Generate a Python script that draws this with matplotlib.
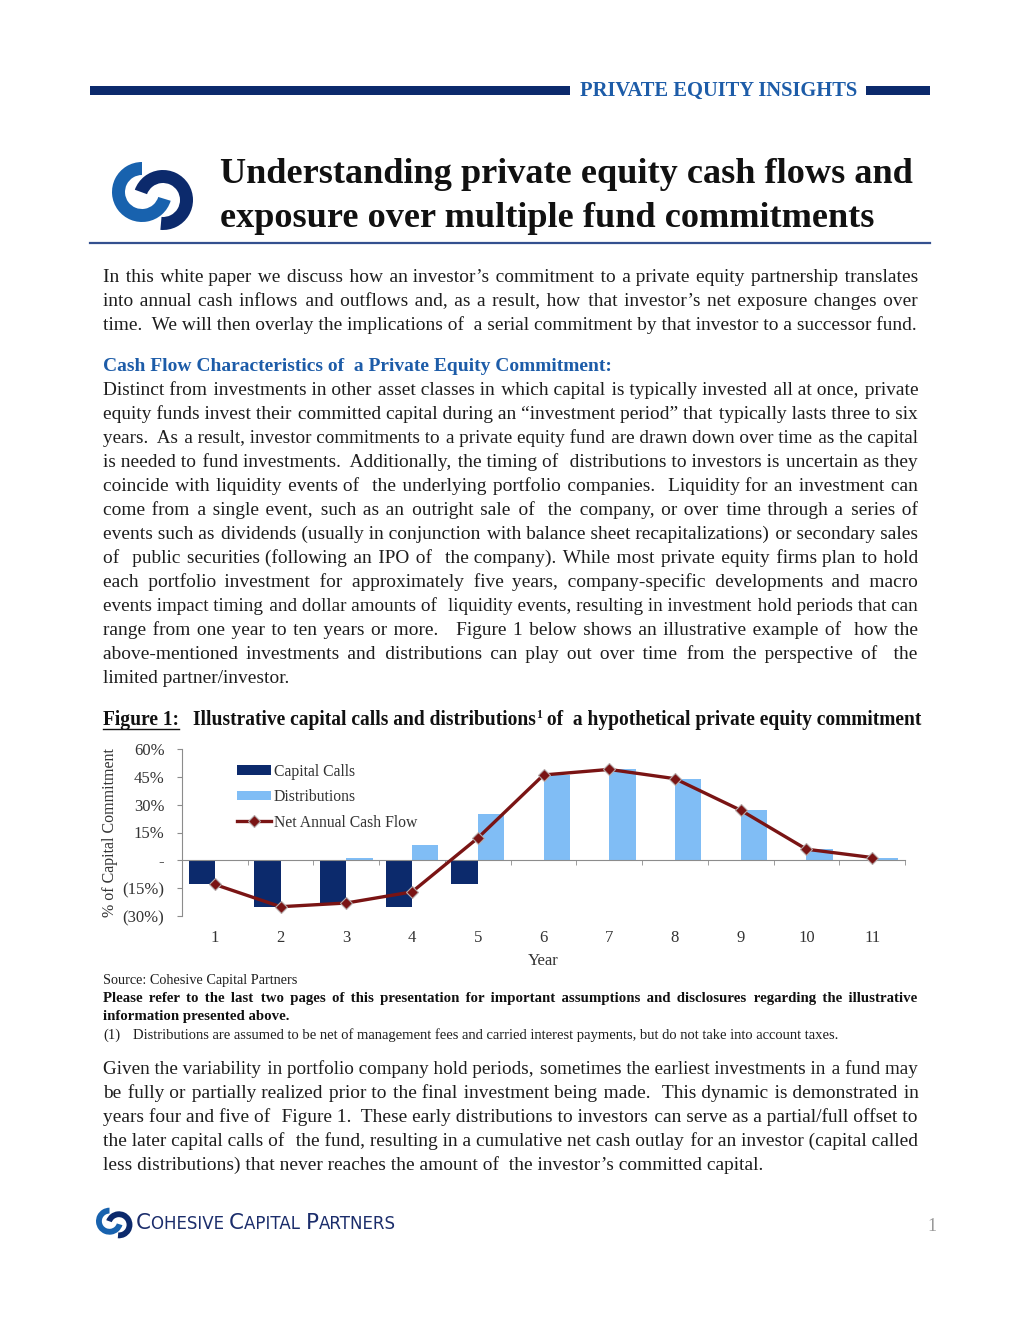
import numpy as np
import matplotlib
matplotlib.use("Agg")
import matplotlib.pyplot as plt
from matplotlib.font_manager import FontProperties
from matplotlib.patches import Wedge, Rectangle
from matplotlib.lines import Line2D

W, H = 1020, 1320
SERIF = ["Liberation Serif", "DejaVu Serif"]
plt.rcParams["font.family"] = SERIF

NAVY = "#0c2a6c"
LOGO_BLUE = "#1862ae"
LIGHT = "#80bdf5"
RED = "#7a1414"
BLUE_TXT = "#1d5ca8"
BODY = "#1e1e1e"
GRAY = "#8c8c8c"
HAIR = "\u200a"

# chart data (% of capital commitment)
years = [1, 2, 3, 4, 5, 6, 7, 8, 9, 10, 11]
capital_calls = [-13, -25, -24, -25, -13, 0, 0, 0, 0, 0, 0]
distributions = [0, 0, 1, 8, 25, 46, 49, 44, 27, 6, 1.5]
net_cash_flow = [-13, -25, -23, -17, 12, 46, 49, 44, 27, 6, 1.5]
y_ticks = [60, 45, 30, 15, 0, -15, -30]
series_labels = ["Capital Calls", "Distributions", "Net Annual Cash Flow"]

# page text
header = "PRIVATE EQUITY INSIGHTS"
title_lines = ["Understanding private equity cash flows and",
               "exposure over multiple fund commitments"]
para1 = ["In this white paper we discuss how an investor\u2019s commitment to a private equity partnership translates",
         "into annual cash inflows and outflows and, as a result, how that investor\u2019s net exposure changes over",
         "time.  We will then overlay the implications of  a serial commitment by that investor to a successor fund."]
heading = "Cash Flow Characteristics of  a Private Equity Commitment:"
para2 = ["Distinct from investments in other asset classes in which capital is typically invested all at once, private",
         "equity funds invest their committed capital during an \u201cinvestment period\u201d that typically lasts three to six",
         "years.  As a result, investor commitments to a private equity fund are drawn down over time as the capital",
         "is needed to fund investments.  Additionally, the timing of  distributions to investors is uncertain as they",
         "coincide with liquidity events of  the underlying portfolio companies.  Liquidity for an investment can",
         "come from a single event, such as an outright sale of  the company, or over time through a series of",
         "events such as dividends (usually in conjunction with balance sheet recapitalizations) or secondary sales",
         "of  public securities (following an IPO of  the company). While most private equity firms plan to hold",
         "each portfolio investment for approximately five years, company-specific developments and macro",
         "events impact timing and dollar amounts of  liquidity events, resulting in investment hold periods that can",
         "range from one year to ten years or more.   Figure 1 below shows an illustrative example of  how the",
         "above-mentioned investments and distributions can play out over time from the perspective of  the",
         "limited partner/investor."]
caption_a = "Illustrative capital calls and distributions"
caption_b = " of  a hypothetical private equity commitment"
source = "Source: Cohesive Capital Partners"
disclaimer = ["Please refer to the last two pages of this presentation for important assumptions and disclosures regarding the illustrative",
              "information presented above."]
footnote = "Distributions are assumed to be net of management fees and carried interest payments, but do not take into account taxes."
para3 = ["Given the variability in portfolio company hold periods, sometimes the earliest investments in a fund may",
         "be fully or partially realized prior to the final investment being made.  This dynamic is demonstrated in",
         "years four and five of  Figure 1.  These early distributions to investors can serve as a partial/full offset to",
         "the later capital calls of  the fund, resulting in a cumulative net cash outlay for an investor (capital called",
         "less distributions) that never reaches the amount of  the investor\u2019s committed capital."]

fig = plt.figure(figsize=(W / 100, H / 100), dpi=100)
page = fig.add_axes([0, 0, 1, 1])
page.set_xlim(0, W)
page.set_ylim(H, 0)
page.axis("off")
renderer = fig.canvas.get_renderer()


def width(s, size, weight="normal", family=SERIF):
    if not s:
        return 0.0
    fp = FontProperties(family=family, size=size, weight=weight)
    w, _, _ = renderer.get_text_width_height_descent(s, fp, ismath=False)
    return w


def advance(s, size, weight="normal", family=SERIF):
    return width("H" + s + "H", size, weight, family) - width("HH", size, weight, family)


def fit(s, target, weight="normal", family=SERIF):
    return 20 * target / width(s, 20, weight, family)


def justify(line, x0, x1, size, weight):
    # widen the gaps with hair spaces so the line spans x0..x1
    tokens = line.split(" ")
    n = len(tokens) - 1
    extra = (x1 - x0) - width(line, size, weight)
    hw = advance(HAIR, size, weight)
    if n == 0 or extra <= 0 or hw <= 0:
        return line
    out, done = tokens[0], 0.0
    for i in range(n):
        k = int(round((extra * (i + 1) / n - done) / hw))
        out += " " + HAIR * max(k, 0) + tokens[i + 1]
        done += max(k, 0) * hw
    return out


def put_para(lines, x0, x1, y0, step, size, weight="normal", color=BODY):
    for i, line in enumerate(lines):
        sz = size
        natural = width(line, size, weight)
        if natural > x1 - x0:
            sz = size * (x1 - x0) / natural * 0.998
        if i < len(lines) - 1:
            line = justify(line, x0, x1, sz, weight)
        page.text(x0, y0 + i * step, line, fontsize=sz, fontweight=weight,
                  color=color, ha="left", va="baseline")


def logo(cx, cy, s):
    page.add_patch(Wedge((cx - 10 * s, cy - 4 * s), 30 * s, 17, 270,
                         width=13 * s, color=LOGO_BLUE, lw=0))
    page.add_patch(Wedge((cx + 11 * s, cy + 4 * s), 30 * s, -160, 95,
                         width=13 * s, color=NAVY, lw=0))


# header band
page.add_patch(Rectangle((90, 86), 480, 9, color=NAVY, lw=0))
page.add_patch(Rectangle((866, 86), 64, 9, color=NAVY, lw=0))
hs = fit(header, 276, "bold")
page.text(580, 95.5, header, fontsize=hs, fontweight="bold", color=BLUE_TXT,
          ha="left", va="baseline")

# title block
logo(152, 196, 1.0)
ts = fit(title_lines[0], 691, "bold")
for i, t in enumerate(title_lines):
    page.text(220, 183 + 44 * i, t, fontsize=ts, fontweight="bold", color="#111111",
              ha="left", va="baseline")
page.plot([90, 930], [243, 243], color="#34508f", lw=1.6)

# body text
bs = fit(para1[2].replace("  ", " "), 800)
put_para(para1, 103, 918, 282, 24, bs)
hds = fit(heading, 508, "bold")
page.text(103, 371, heading, fontsize=hds, fontweight="bold", color=BLUE_TXT,
          ha="left", va="baseline")
put_para(para2, 103, 918, 395, 24, bs)

# figure caption
cs = fit(caption_a + caption_b, 724, "bold")
page.text(103, 725, "Figure 1:", fontsize=cs, fontweight="bold", color="#111111",
          ha="left", va="baseline")
page.plot([103, 103 + width("Figure 1:", cs, "bold")], [729, 729], color="#111111", lw=1.0)
x = 193
page.text(x, 725, caption_a, fontsize=cs, fontweight="bold", color="#111111",
          ha="left", va="baseline")
x += width(caption_a, cs, "bold")
page.text(x + 0.5, 718, "1", fontsize=cs * 0.6, fontweight="bold", color="#111111",
          ha="left", va="baseline")
x += width("1", cs * 0.6, "bold") + 0.5
page.text(x, 725, caption_b, fontsize=cs, fontweight="bold", color="#111111",
          ha="left", va="baseline")

# notes under chart
ss = fit(source, 195)
page.text(103, 984, source, fontsize=ss, color=BODY, ha="left", va="baseline")
ds = fit(disclaimer[1], 186, "bold")
put_para(disclaimer, 103, 917, 1002, 18, ds, "bold", "#111111")
fs = fit(footnote, 709)
page.text(103, 1039, "(1)", fontsize=fs, color=BODY, ha="left", va="baseline")
page.text(133, 1039, footnote, fontsize=fs, color=BODY, ha="left", va="baseline")

put_para(para3, 103, 918, 1074, 24, bs)

# footer
logo(114, 1223, 0.45)
runs = [("C", 1.0), ("OHESIVE ", 0.78), ("C", 1.0), ("APITAL ", 0.78),
        ("P", 1.0), ("ARTNERS", 0.78)]
FOOT = "DejaVu Sans"
base = sum(advance(r, 10 * k, family=FOOT) for r, k in runs)
fsz = 10 * 262 / base
x = 136
for r, k in runs:
    page.text(x, 1229, r, fontsize=fsz * k, family=FOOT, color="#1b2d6b",
              ha="left", va="baseline")
    x += advance(r, fsz * k, family=FOOT)
page.text(927, 1231, "1", fontsize=13, color="#999999", ha="left", va="baseline")

# chart
ax = fig.add_axes([182 / W, 1 - 916 / H, 723 / W, 167 / H])
ax.set_facecolor("none")
xs = np.array(years, dtype=float)
ax.bar(xs - 0.2, capital_calls, 0.4, color=NAVY, lw=0, zorder=2)
ax.bar(xs + 0.2, distributions, 0.4, color=LIGHT, lw=0, zorder=2)
ax.plot(xs, net_cash_flow, color=RED, lw=2.4, marker="D", ms=6.5, mfc=RED,
        mec="#b5aaaa", mew=0.8, zorder=4)
ax.set_xlim(0.5, 11.5)
ax.set_ylim(-30, 60)

for s in ["top", "right"]:
    ax.spines[s].set_visible(False)
ax.spines["left"].set_color(GRAY)
ax.spines["bottom"].set_color(GRAY)
ax.spines["bottom"].set_position(("data", 0))
ax.spines["bottom"].set_zorder(3)


def pct(v):
    if v == 0:
        return "-"
    if v < 0:
        return "(%d%%)" % abs(v)
    return "%d%%" % v


ax.set_yticks(y_ticks)
ax.set_yticklabels([pct(v) for v in y_ticks])
ax.tick_params(axis="y", direction="out", length=3.6, color=GRAY, pad=9.0,
               labelsize=12, labelcolor="#333333")
ax.set_xticks(years)
ax.set_xticklabels([str(y) for y in years])
ax.set_xticks(np.arange(0.5, 12, 1), minor=True)
ax.tick_params(axis="x", which="major", length=0, pad=50.5, labelsize=12,
               labelcolor="#333333")
ax.tick_params(axis="x", which="minor", direction="out", length=3.6, color=GRAY)

ax.text((110 - 182) / 723, 0.5, "% of Capital Commitment", rotation=90,
        transform=ax.transAxes, ha="center", va="center", fontsize=11.5,
        color="#333333")
ax.text(0.5, (916 - 961) / 167, "Year", transform=ax.transAxes, ha="center",
        va="center", fontsize=12, color="#333333")

handles = [Rectangle((0, 0), 1, 1, color=NAVY, lw=0),
           Rectangle((0, 0), 1, 1, color=LIGHT, lw=0),
           Line2D([], [], color=RED, lw=2.4, marker="D", ms=6.5, mfc=RED,
                  mec="#b5aaaa", mew=0.8)]
leg = ax.legend(handles, series_labels, loc="upper left", bbox_to_anchor=(0.076, 0.912),
                frameon=False, fontsize=11.3, handlelength=2.15, handleheight=0.55,
                handletextpad=0.2, labelspacing=0.6, borderpad=0, borderaxespad=0)
for t in leg.get_texts():
    t.set_color("#333333")

fig.savefig("out.png", dpi=100)
